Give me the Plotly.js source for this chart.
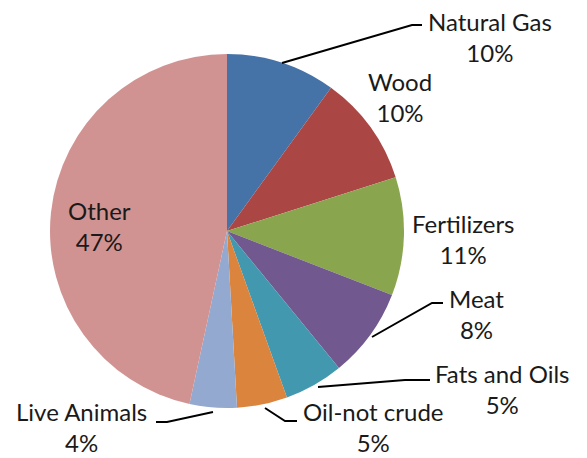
<!DOCTYPE html>
<html>
<head>
<meta charset="utf-8">
<script src="https://cdn.plot.ly/plotly-3.0.1.min.js"></script>
<style>html,body{margin:0;padding:0;background:#fff;}#chart{width:587px;height:458px;}</style>
</head>
<body>
<div id="chart"></div>
<script>
// Data
var categories = ["Natural Gas", "Wood", "Fertilizers", "Meat", "Fats and Oils", "Oil-not crude", "Live Animals", "Other"];
var shares = [10.0, 10.1, 10.8, 8.2, 5.4, 4.6, 4.3, 46.6];
var colors = ["#4572A7", "#AA4643", "#89A54E", "#71588F", "#4198AF", "#DB843D", "#93A9CF", "#D19392"];

var W = 587, H = 458;
function px(x) { return x / W; }
function py(y) { return 1 - y / H; }

// label placement (pixel positions of label centres) - layout only
var labelPos = [[490, 37], [400, 97], [464, 239], [476, 314], [502, 389], [373, 427], [81, 427], [99, 226]];
// leader lines (pixel paths) - layout only
var leaders = [
  [[282, 63], [412, 25], [422, 25]],
  null,
  null,
  [[372, 337], [432, 303], [443, 303]],
  [[318, 387], [405, 380], [430, 380]],
  [[265, 408], [285, 421], [297, 421]],
  [[213, 412], [167, 422], [156, 422]],
  null
];

var total = shares.reduce(function (a, b) { return a + b; }, 0);
var annotations = categories.map(function (c, i) {
  var pct = Math.round(shares[i] / total * 100);
  return {
    xref: "paper", yref: "paper",
    x: px(labelPos[i][0]), y: py(labelPos[i][1]),
    xanchor: "center", yanchor: "middle",
    text: c + "<br>" + pct + "%",
    showarrow: false,
    font: { family: "Lato, 'Open Sans', sans-serif", size: 24, color: "#1a1a1a" },
    align: "center"
  };
});

var shapes = [];
leaders.forEach(function (pts) {
  if (!pts) return;
  var d = pts.map(function (p, k) { return (k === 0 ? "M" : "L") + px(p[0]) + "," + py(p[1]); }).join(" ");
  shapes.push({ type: "path", xref: "paper", yref: "paper", path: d, line: { color: "#000000", width: 2 } });
});

var cx = 227, cy = 231, r = 177;
var trace = {
  type: "pie",
  labels: categories,
  values: shares,
  sort: false,
  direction: "clockwise",
  rotation: 0,
  marker: { colors: colors, line: { width: 0 } },
  textinfo: "none",
  hoverinfo: "label+percent",
  domain: { x: [px(cx - r), px(cx + r)], y: [py(cy + r), py(cy - r)] },
  showlegend: false
};

var layout = {
  width: W, height: H,
  margin: { l: 0, r: 0, t: 0, b: 0 },
  paper_bgcolor: "#ffffff",
  plot_bgcolor: "#ffffff",
  showlegend: false,
  annotations: annotations,
  shapes: shapes
};

Plotly.newPlot("chart", [trace], layout, { displayModeBar: false, staticPlot: true });
</script>
</body>
</html>
